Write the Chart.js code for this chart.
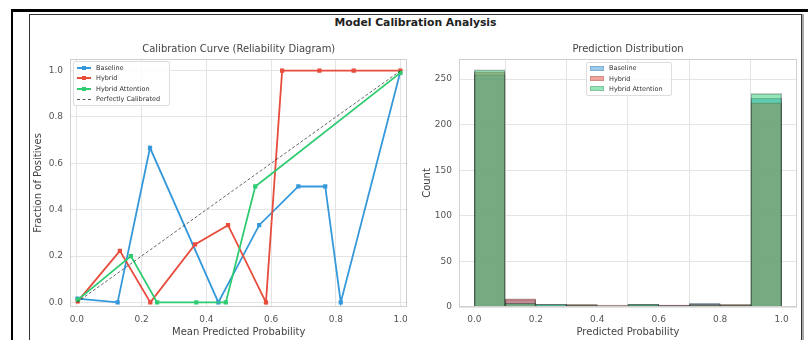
<!DOCTYPE html>
<html>
<head>
<meta charset="utf-8">
<script src="https://cdn.jsdelivr.net/npm/chart.js@4.4.0/dist/chart.umd.min.js"></script>
<style>
  body { margin: 0; background: #fff; font-family: "DejaVu Sans", sans-serif; }
  #page { position: relative; width: 808px; height: 340px; overflow: hidden; }
  .outer { position: absolute; left: 11px; top: 9px; width: 800px; height: 340px;
           border-top: 3px solid #000; border-left: 2px solid #000; }
  .frame { position: absolute; left: 29px; top: 14px; width: 771px; height: 340px;
           border: 1px solid #333; box-shadow: 2px 0 0 #aaa; }
  .suptitle { position: absolute; left: 29px; width: 773px; top: 16px; text-align: center;
              font-weight: bold; font-size: 10.8px; color: #222; }
  .cw { position: absolute; top: 36px; height: 304px; }
  .legend { position: absolute; background: rgba(255,255,255,0.85); border: 1px solid #ddd;
            border-radius: 2px; font-size: 6.5px; color: #333; z-index: 2; }
  .legend .row { position: absolute; left: 0; height: 10px; line-height: 10px; white-space: nowrap; }
  .legend .ln { position: absolute; top: 4px; width: 14px; height: 2px; }
  .legend .sq { position: absolute; top: 3px; width: 4px; height: 4px; }
  .legend .patch { position: absolute; top: 2.5px; width: 14px; height: 5px; box-sizing: border-box; }
  .legend .txt { position: absolute; }
</style>
</head>
<body>
<div id="page">
  <div class="outer"></div>
  <div class="frame"></div>
  <div class="suptitle">Model Calibration Analysis</div>
  <div class="cw" style="left:30px;width:385px;"><canvas id="calChart"></canvas></div>
  <div class="cw" style="left:416px;width:386px;"><canvas id="histChart"></canvas></div>
  <div class="legend" id="calLegend" style="left:73px;top:61px;width:95px;height:43px;"></div>
  <div class="legend" id="histLegend" style="left:586px;top:62px;width:84px;height:32px;"></div>
</div>
<script>
const seriesNames = ["Baseline", "Hybrid", "Hybrid Attention"];
const seriesColors = ["#3498db", "#e74c3c", "#2ecc71"];
const seriesFill = ["rgba(52,152,219,0.5)", "rgba(231,76,60,0.5)", "rgba(46,204,113,0.5)"];

// calibration curve points (mean predicted prob, fraction of positives)
const baselineX = [0.002, 0.126, 0.226, 0.437, 0.563, 0.684, 0.767, 0.815, 0.998];
const baselineY = [0.016, 0.0, 0.667, 0.0, 0.333, 0.5, 0.5, 0.0, 0.99];
const hybridX = [0.003, 0.133, 0.227, 0.365, 0.467, 0.584, 0.634, 0.749, 0.855, 0.999];
const hybridY = [0.004, 0.222, 0.0, 0.25, 0.333, 0.0, 1.0, 1.0, 1.0, 1.0];
const attnX = [0.004, 0.167, 0.248, 0.369, 0.46, 0.551, 0.999];
const attnY = [0.012, 0.2, 0.0, 0.0, 0.0, 0.5, 0.99];
const perfectX = [0, 1];
const perfectY = [0, 1];

// histogram, 10 bins of width 0.1
const binCenters = [0.05, 0.15, 0.25, 0.35, 0.45, 0.55, 0.65, 0.75, 0.85, 0.95];
const histBaseline = [255, 8, 3, 2, 1, 3, 2, 4, 2, 229];
const histHybrid = [258, 9, 1, 3, 2, 2, 2, 3, 3, 224];
const histAttn = [260, 4, 3, 2, 1, 3, 1, 2, 2, 234];

const probTicks = [0, 0.2, 0.4, 0.6, 0.8, 1.0];
const countTicks = [0, 50, 100, 150, 200, 250];

const zip = (xs, ys) => xs.map((x, i) => ({ x: x, y: ys[i] }));

const frameBox = {
  id: "frameBox",
  afterDraw(chart) {
    const a = chart.chartArea;
    const ctx = chart.ctx;
    ctx.save();
    ctx.strokeStyle = "#cfcfcf";
    ctx.lineWidth = 1;
    ctx.strokeRect(Math.round(a.left) + 0.5, Math.round(a.top) + 0.5,
      Math.round(a.right - a.left) - 1, Math.round(a.bottom - a.top) - 1);
    ctx.restore();
  }
};

const tickFont = { family: "DejaVu Sans", size: 9 };
const titleFont = { family: "DejaVu Sans", size: 10, weight: "normal" };

function axisX(min, max, title) {
  return {
    type: "linear", min: min, max: max, offset: false,
    afterBuildTicks: s => { s.ticks = probTicks.map(v => ({ value: v })); },
    afterFit: s => { s.height = 33; },
    grid: { color: "#e4e4e4", drawTicks: false },
    border: { display: false },
    ticks: { font: tickFont, color: "#555", padding: 7, callback: v => v.toFixed(1), maxRotation: 0 },
    title: { display: true, text: title, font: titleFont, color: "#444", padding: { top: 0, bottom: 2 } }
  };
}

function lineSet(name, data, color, order) {
  return {
    label: name, data: data, borderColor: color, backgroundColor: color,
    borderWidth: 1.8, pointStyle: "rect", pointRadius: 3, pointBorderWidth: 0,
    tension: 0, fill: false, order: order
  };
}

new Chart(document.getElementById("calChart"), {
  type: "line",
  data: {
    datasets: [
      lineSet(seriesNames[0], zip(baselineX, baselineY), seriesColors[0], 3),
      lineSet(seriesNames[1], zip(hybridX, hybridY), seriesColors[1], 2),
      lineSet(seriesNames[2], zip(attnX, attnY), seriesColors[2], 1),
      {
        label: "Perfectly Calibrated", data: zip(perfectX, perfectY),
        borderColor: "rgba(0,0,0,0.6)", borderWidth: 1, borderDash: [3, 2],
        pointRadius: 0, fill: false, order: 0
      }
    ]
  },
  options: {
    responsive: true, maintainAspectRatio: false, animation: false,
    layout: { padding: { right: 7, left: 0, top: 0, bottom: 0 } },
    plugins: {
      legend: { display: false },
      tooltip: { enabled: false },
      title: {
        display: true, text: "Calibration Curve (Reliability Diagram)", fullSize: false,
        font: titleFont, color: "#444", padding: { top: 7, bottom: 4 }
      }
    },
    scales: {
      x: axisX(-0.021, 1.021, "Mean Predicted Probability"),
      y: {
        type: "linear", min: -0.02, max: 1.05,
        afterBuildTicks: s => { s.ticks = probTicks.map(v => ({ value: v })); },
        afterFit: s => { s.width = 40; },
        grid: { color: "#e4e4e4", drawTicks: false },
        border: { display: false },
        ticks: { font: tickFont, color: "#555", padding: 7, callback: v => v.toFixed(1) },
        title: { display: true, text: "Fraction of Positives", font: titleFont, color: "#444", padding: { top: 2, bottom: 0 } }
      }
    }
  },
  plugins: [frameBox]
});

function barSet(name, counts, fill, order) {
  return {
    label: name, data: zip(binCenters, counts), backgroundColor: fill,
    borderColor: "rgba(0,0,0,0.35)", borderWidth: 0.8, grouped: false,
    barPercentage: 1, categoryPercentage: 1, order: order
  };
}

new Chart(document.getElementById("histChart"), {
  type: "bar",
  data: {
    datasets: [
      barSet(seriesNames[0], histBaseline, seriesFill[0], 3),
      barSet(seriesNames[1], histHybrid, seriesFill[1], 2),
      barSet(seriesNames[2], histAttn, seriesFill[2], 1)
    ]
  },
  options: {
    responsive: true, maintainAspectRatio: false, animation: false,
    layout: { padding: { right: 5, left: 0, top: 0, bottom: 0 } },
    plugins: {
      legend: { display: false },
      tooltip: { enabled: false },
      title: {
        display: true, text: "Prediction Distribution", fullSize: false,
        font: titleFont, color: "#444", padding: { top: 7, bottom: 4 }
      }
    },
    scales: {
      x: axisX(-0.05, 1.05, "Predicted Probability"),
      y: {
        type: "linear", min: 0, max: 272,
        afterBuildTicks: s => { s.ticks = countTicks.map(v => ({ value: v })); },
        afterFit: s => { s.width = 43; },
        grid: { color: "#e4e4e4", drawTicks: false },
        border: { display: false },
        ticks: { font: tickFont, color: "#555", padding: 7 },
        title: { display: true, text: "Count", font: titleFont, color: "#444", padding: { top: 5, bottom: 0 } }
      }
    }
  },
  plugins: [frameBox]
});

// legends (matplotlib-style, inside the axes)
const calLegend = document.getElementById("calLegend");
const calItems = seriesNames.map((n, i) => ({ name: n, color: seriesColors[i], dash: false }))
  .concat([{ name: "Perfectly Calibrated", color: "#555", dash: true }]);
calItems.forEach((it, i) => {
  const row = document.createElement("div");
  row.className = "row";
  row.style.top = (1 + i * 10.3) + "px";
  row.style.width = "95px";
  const line = it.dash
    ? `<div class="ln" style="left:3px;height:0;top:5px;border-top:1px dashed ${it.color};"></div>`
    : `<div class="ln" style="left:3px;background:${it.color};"></div><div class="sq" style="left:8px;background:${it.color};"></div>`;
  row.innerHTML = line + `<div class="txt" style="left:22px;">${it.name}</div>`;
  calLegend.appendChild(row);
});

const histLegend = document.getElementById("histLegend");
seriesNames.forEach((n, i) => {
  const row = document.createElement("div");
  row.className = "row";
  row.style.top = (0.3 + i * 10.3) + "px";
  row.style.width = "84px";
  row.innerHTML = `<div class="patch" style="left:3px;background:${seriesFill[i]};border:0.5px solid rgba(0,0,0,0.15);"></div>` +
    `<div class="txt" style="left:22px;">${n}</div>`;
  histLegend.appendChild(row);
});
</script>
</body>
</html>
